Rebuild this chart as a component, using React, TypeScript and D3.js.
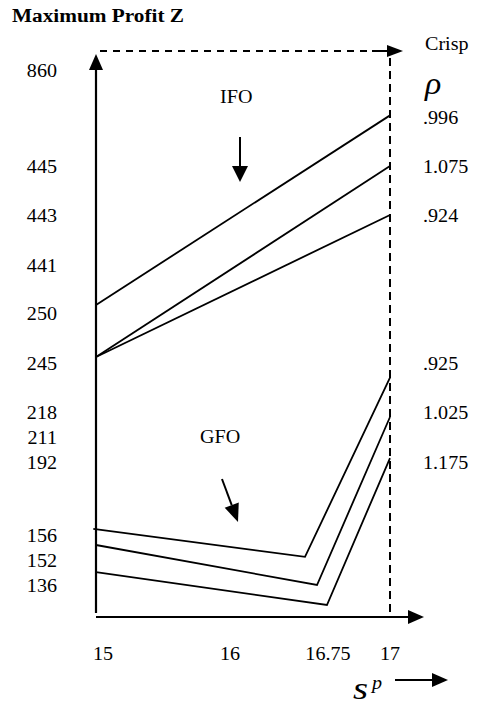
import * as d3 from 'd3';

// values (schematic, so the y axis is piecewise)
const yTicks = [860, 445, 443, 441, 250, 245, 218, 211, 192, 156, 152, 136];
const xTicks = [15, 16, 16.75, 17];

// IFO lines: x = 15 -> 17
const ifoX = [15, 17];
const ifoTop = [282, 665];
const ifoMid = [245.6, 445];
const ifoLow = [245.6, 443];

// GFO lines: start, kink, end
const gfoTopX = [14.98, 16.574, 17];
const gfoTop = [159, 152.5, 237];
const gfoMidX = [15, 16.666, 17];
const gfoMid = [154.4, 136, 216.6];
const gfoLowX = [15, 16.742, 17];
const gfoLow = [144.3, 123.2, 195];

const rhoLabels = ['.996', '1.075', '.924', '.925', '1.025', '1.175'];
const rhoAt = [654, 445, 443, 245, 218, 192];

const FONT = '"Liberation Serif", "Times New Roman", serif';
const FS = 19;
const SX = 1.06;

function Txt({ x, y, children, size = FS, anchor = 'start', weight = 'normal', italic = false, sx = SX }: any) {
  return (
    <text
      transform={`translate(${x},${y}) scale(${sx},1)`}
      fontFamily={FONT}
      fontSize={size}
      fontWeight={weight}
      fontStyle={italic ? 'italic' : 'normal'}
      textAnchor={anchor}
      fill="#000"
    >
      {children}
    </text>
  );
}

function Arrow({ x1, y1, x2, y2, len = 15, w = 14, sw = 2, dash }: any) {
  const dx = x2 - x1, dy = y2 - y1;
  const L = Math.hypot(dx, dy);
  const ux = dx / L, uy = dy / L;
  const bx = x2 - ux * len, by = y2 - uy * len;
  const px = -uy * w / 2, py = ux * w / 2;
  return (
    <g>
      <line x1={x1} y1={y1} x2={bx} y2={by} stroke="#000" strokeWidth={sw} strokeDasharray={dash} />
      <polygon points={`${x2},${y2} ${bx + px},${by + py} ${bx - px},${by - py}`} fill="#000" />
    </g>
  );
}

export default function App() {
  const width = 477;
  const height = 706;

  const x = d3.scaleLinear().domain(xTicks).range([96, 230, 328, 390]);
  const y = d3.scaleLinear()
    .domain(yTicks)
    .range([70.5, 166, 215, 265, 313, 363, 412, 437, 462, 535, 560, 585]);

  const line = d3.line<[number, number]>().x(d => x(d[0])).y(d => y(d[1]));
  const mk = (xs: number[], ys: number[]) => line(xs.map((v, i) => [v, ys[i]] as [number, number])) as string;

  const series = [
    mk(ifoX, ifoTop), mk(ifoX, ifoMid), mk(ifoX, ifoLow),
    mk(gfoTopX, gfoTop), mk(gfoMidX, gfoMid), mk(gfoLowX, gfoLow),
  ];

  const x0 = x(15);
  const x1 = x(17);
  const axisY = 617;
  const topY = 51;

  return (
    <svg width={width} height={height} style={{ position: 'absolute', left: 0, top: 0, background: '#fff' }}>
      <rect width={width} height={height} fill="#fff" />
      <Txt x={12} y={22} size={19} weight="bold" sx={1.12}>Maximum Profit Z</Txt>

      {/* axes */}
      <Arrow x1={x0} y1={613} x2={x0} y2={54} len={16} w={14} sw={2.2} />
      <Arrow x1={x0} y1={axisY} x2={424} y2={axisY} len={16} w={14} sw={2.2} />
      <line x1={x0 + 4} y1={topY} x2={372} y2={topY} stroke="#000" strokeWidth={2} strokeDasharray="7,6" />
      <Arrow x1={372} y1={topY} x2={403} y2={topY} len={16} w={12} sw={2} />
      <line x1={x1} y1={58} x2={x1} y2={614} stroke="#000" strokeWidth={2} strokeDasharray="8,5" />

      {/* y tick labels */}
      {yTicks.map(v => (
        <Txt key={v} x={57} y={y(v) + 6.5} anchor="end">{v}</Txt>
      ))}

      {/* x tick labels */}
      {xTicks.map((v, i) => (
        <Txt key={v} x={i === 0 ? x(v) - 3 : x(v)} y={660} anchor={i === 0 ? 'start' : 'middle'}>{v}</Txt>
      ))}

      {/* data lines */}
      {series.map((d, i) => (
        <path key={i} d={d} fill="none" stroke="#000" strokeWidth={1.8} />
      ))}

      {/* right-hand rho labels */}
      <Txt x={425} y={50}>Crisp</Txt>
      <Txt x={425} y={94} size={32} italic>ρ</Txt>
      {rhoLabels.map((t, i) => (
        <Txt key={t} x={423} y={y(rhoAt[i]) + 6.5}>{t}</Txt>
      ))}

      {/* annotations */}
      <Txt x={220} y={103}>IFO</Txt>
      <Arrow x1={240} y1={137} x2={240} y2={182} len={16} w={16} sw={2} />
      <Txt x={200} y={443}>GFO</Txt>
      <Arrow x1={222} y1={479} x2={238} y2={522} len={18} w={15} sw={2} />

      {/* x axis title */}
      <Txt x={353} y={699} size={31} italic sx={1.25}>s</Txt>
      <Txt x={372} y={689} size={19} italic>p</Txt>
      <Arrow x1={395} y1={680} x2={448} y2={680} len={16} w={14} sw={2} />
    </svg>
  );
}
